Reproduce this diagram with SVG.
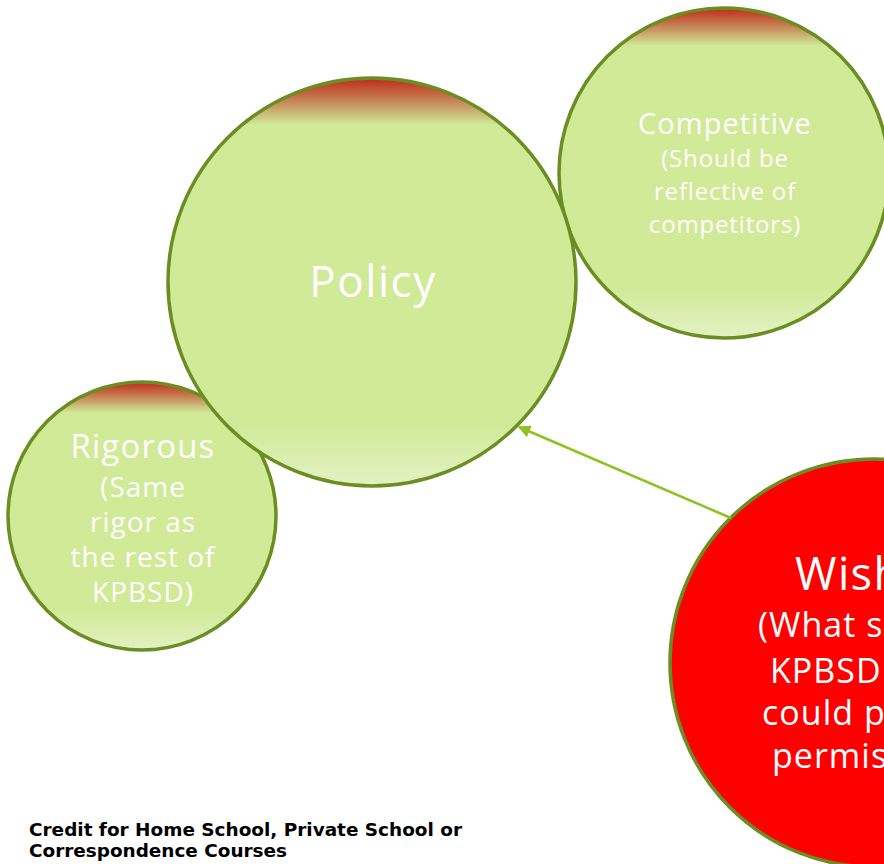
<svg xmlns="http://www.w3.org/2000/svg" width="884" height="864" viewBox="0 0 884 864">
<defs>
<linearGradient id="g" x1="0" y1="0" x2="0" y2="1">
<stop offset="0" stop-color="#C02A18"/>
<stop offset="0.05" stop-color="#C57A4E"/>
<stop offset="0.115" stop-color="#D0EA98"/>
<stop offset="0.85" stop-color="#D0EA98"/>
<stop offset="1" stop-color="#E2F2C4"/>
</linearGradient>
<marker id="ah" viewBox="0 0 10 10" refX="9" refY="5" markerWidth="5" markerHeight="5" orient="auto" markerUnits="strokeWidth">
<path d="M0,0 L10,5 L0,10 Z" fill="#8DC21F"/>
</marker>
<style>
.n{fill:url(#g);stroke:#6B8E23;stroke-width:3.5}
.w{fill:#FF0000;stroke:#6B8E23;stroke-width:3.5}
.t{font-family:"Open Sans","DejaVu Sans",sans-serif;fill:#FFFFFF;text-anchor:middle;letter-spacing:0.035em}
.tw{font-family:"Open Sans","DejaVu Sans",sans-serif;fill:#FFFFFF;letter-spacing:0.03em}
.c{stroke:#8DC21F;stroke-width:2.5;fill:none}
.cap{font-family:"DejaVu Sans","Liberation Sans",sans-serif;font-weight:bold;font-size:17px;fill:#000}
</style>
</defs>
<g id="competitive">
<circle class="n" cx="724" cy="173" r="165"/>
<text class="t" x="725" y="134" font-size="29">Competitive</text>
<text class="t" x="725" y="167" font-size="24">(Should be</text>
<text class="t" x="725" y="200" font-size="24">reflective of</text>
<text class="t" x="725" y="233" font-size="24">competitors)</text>
</g>
<g id="rigorous">
<circle class="n" cx="142" cy="516" r="134"/>
<text class="t" x="143" y="458" font-size="33">Rigorous</text>
<text class="t" x="143" y="497" font-size="28">(Same</text>
<text class="t" x="143" y="532" font-size="28">rigor as</text>
<text class="t" x="143" y="567" font-size="28">the rest of</text>
<text class="t" x="143" y="602" font-size="28">KPBSD)</text>
</g>
<g id="policy">
<circle class="n" cx="372" cy="282" r="204"/>
<text class="t" x="373" y="297" font-size="44">Policy</text>
</g>
<g id="wish">
<circle class="w" cx="874" cy="663" r="204"/>
<text class="tw" x="795" y="590" font-size="45">Wish</text>
<text class="tw" x="758" y="637" font-size="34">(What s</text>
<text class="tw" x="770" y="683" font-size="34">KPBSD</text>
<text class="tw" x="762" y="725" font-size="34">could p</text>
<text class="tw" x="772" y="768" font-size="34">permis</text>
</g>
<g id="connectors">
<line class="c" x1="731" y1="518" x2="519" y2="427" marker-end="url(#ah)"/>
</g>
<g id="caption">
<text class="cap" x="29" y="836" textLength="433" lengthAdjust="spacingAndGlyphs">Credit for Home School, Private School or</text>
<text class="cap" x="29" y="857" textLength="258" lengthAdjust="spacingAndGlyphs">Correspondence Courses</text>
</g>
</svg>
